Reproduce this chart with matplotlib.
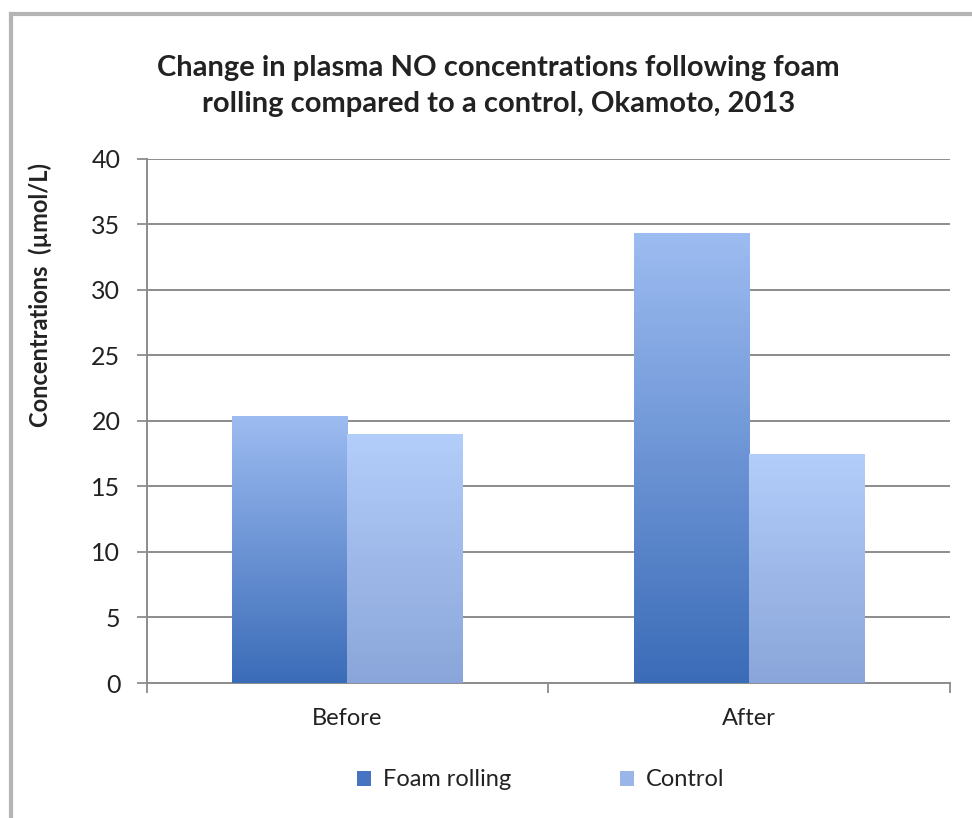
import numpy as np
import matplotlib.pyplot as plt
from matplotlib.colors import LinearSegmentedColormap
from matplotlib.patches import Patch
from matplotlib.lines import Line2D

plt.rcParams['font.family'] = ['Lato', 'DejaVu Sans']

categories = ['Before', 'After']
series_names = ['Foam rolling', 'Control']
foam_rolling = [20.4, 34.3]
control = [19.0, 17.5]
y_ticks = [0, 5, 10, 15, 20, 25, 30, 35, 40]

# top -> bottom colours of each bar's gradient
foam_cols = ['#9dbcf1', '#3b6cb8']
ctrl_cols = ['#b3cefa', '#8aa5d9']

fig = plt.figure(figsize=(9.72, 8.18), dpi=100)
ax = fig.add_axes([0.151, 0.165, 0.826, 0.641])

x = np.arange(len(categories))
w = 0.287
bars_f = ax.bar(x - w / 2, foam_rolling, w, color='none', zorder=3)
bars_c = ax.bar(x + w / 2, control, w, color='none', zorder=3)

grad = np.linspace(1, 0, 256).reshape(-1, 1)
for bars, cols in [(bars_f, foam_cols), (bars_c, ctrl_cols)]:
    cmap = LinearSegmentedColormap.from_list('g', [cols[1], cols[0]])
    for b in bars:
        x0, w0, h0 = b.get_x(), b.get_width(), b.get_height()
        im = ax.imshow(grad, cmap=cmap, aspect='auto', vmin=0, vmax=1,
                       extent=(x0, x0 + w0, 0, h0), zorder=3)
        im.set_clip_path(b)

ax.set_xlim(-0.5, 1.5)
ax.set_ylim(0, 40)
ax.set_yticks(y_ticks)
ax.set_yticklabels([str(t) for t in y_ticks], fontsize=18, color='#222222')
ax.set_xticks([-0.5, 0.5, 1.5])
ax.set_xticklabels([])
ax.set_xticks(x, minor=True)
ax.set_xticklabels(categories, minor=True, fontsize=17, color='#222222')
ax.tick_params(axis='x', which='minor', length=0, pad=18)
ax.tick_params(axis='x', which='major', length=7, color='#8c8c8c', width=1.3)
ax.tick_params(axis='y', length=7, color='#8c8c8c', width=1.3, pad=12)

ax.grid(axis='y', color='#8c8c8c', linewidth=1.4)
ax.set_axisbelow(True)
for s in ['top', 'right']:
    ax.spines[s].set_visible(False)
for s in ['left', 'bottom']:
    ax.spines[s].set_color('#8c8c8c')
    ax.spines[s].set_linewidth(1.4)

fig.text(0.513, 1 - 86 / 818,
         'Change in plasma NO concentrations following foam\nrolling compared to a control, Okamoto, 2013',
         ha='center', va='center', fontsize=21, fontweight='bold',
         color='#222222', linespacing=1.45)
fig.text(0.041, 1 - 295 / 818, 'Concentrations  (µmol/L)', rotation=90,
         ha='center', va='center', fontsize=17, fontweight='bold', color='#222222')

handles = [Patch(facecolor='#4674c2'), Patch(facecolor='#9ab6e8')]
fig.legend(handles, series_names, ncol=2, loc='center',
           bbox_to_anchor=(0.556, 1 - 780 / 818), frameon=False, fontsize=17,
           handlelength=0.6, handleheight=0.6, handletextpad=0.5,
           columnspacing=4.6, labelcolor='#222222')

# chart frame
fig.add_artist(Line2D([11 / 972, 11 / 972], [0, 1 - 14 / 818],
                      transform=fig.transFigure, color='#b4b4b4', linewidth=3))
fig.add_artist(Line2D([11 / 972, 1], [1 - 14 / 818, 1 - 14 / 818],
                      transform=fig.transFigure, color='#b4b4b4', linewidth=3))

fig.savefig('out.png', dpi=100)
